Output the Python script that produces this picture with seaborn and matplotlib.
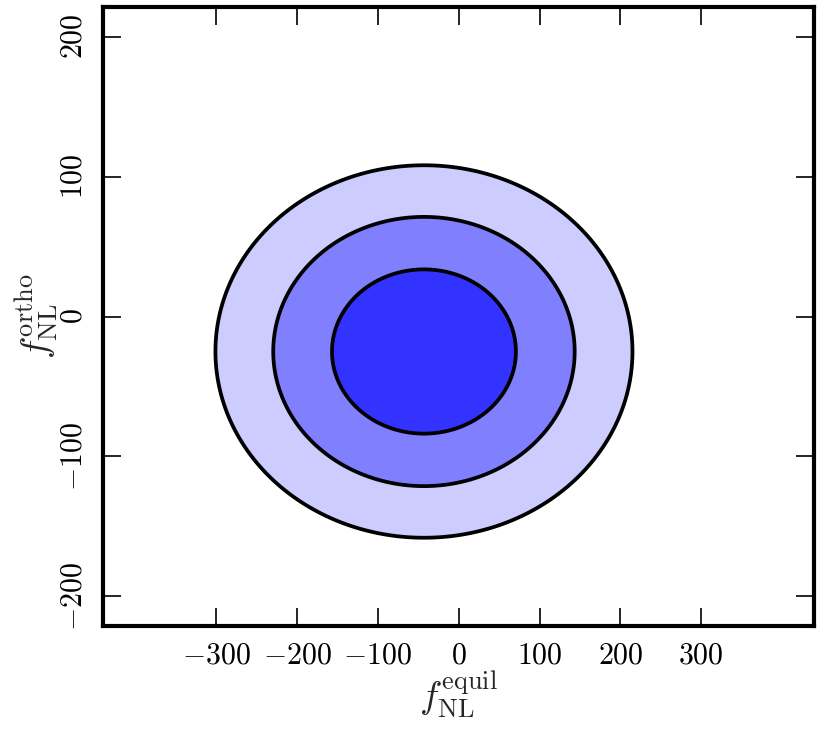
import numpy as np
import matplotlib
matplotlib.use("Agg")
import matplotlib.pyplot as plt
import seaborn as sns

# ── Fisher forecast: centre, 1-sigma widths, confidence levels ─────────────
centre = [-43.0, -25.0]          # (f_NL^equil, f_NL^ortho)
sigma = [75.0, 38.7]             # marginal widths, uncorrelated
delta_chi2 = [2.30, 6.18, 11.83]  # 1, 2, 3 sigma for 2 parameters
fill_colors = ["#3333ff", "#8080ff", "#ccccff"]

x_ticks = [-300, -200, -100, 0, 100, 200, 300]
y_ticks = [-200, -100, 0, 100, 200]
x_lim = (-440, 440)
y_lim = (-221, 221)

sns.set_style("ticks")
plt.rcParams["mathtext.fontset"] = "cm"
plt.rcParams["font.family"] = ["DejaVu Serif"]

xs = np.linspace(x_lim[0], x_lim[1], 900)
ys = np.linspace(y_lim[0], y_lim[1], 900)
X, Y = np.meshgrid(xs, ys)
chi2 = ((X - centre[0]) / sigma[0]) ** 2 + ((Y - centre[1]) / sigma[1]) ** 2

fig = plt.figure(figsize=(8.31, 7.31), dpi=100)
ax = fig.add_axes([0.124, 0.144, 0.856, 0.846])

bounds = [0.0] + delta_chi2
ax.contourf(X, Y, chi2, levels=bounds, colors=fill_colors)
ax.contour(X, Y, chi2, levels=delta_chi2, colors="black", linewidths=2.7)

ax.set_xlim(*x_lim)
ax.set_ylim(*y_lim)
ax.set_xticks(x_ticks)
ax.set_yticks(y_ticks)
fmt = lambda v: rf"${v}$" if v >= 0 else rf"$-{-v}$"
ax.set_xticklabels([fmt(v) for v in x_ticks], fontsize=21.5)
ax.set_yticklabels([fmt(v) for v in y_ticks], fontsize=21.5, rotation=90, va="center")

ax.tick_params(direction="in", length=13, width=1.2, top=True, right=True, pad=11,
               colors="black")
for sp in ax.spines.values():
    sp.set_linewidth(3)
    sp.set_color("black")

ax.set_xlabel(r"$f_{\rm NL}^{\rm equil}$", fontsize=27, labelpad=0)
ax.set_ylabel(r"$f_{\rm NL}^{\rm ortho}$", fontsize=27, labelpad=0)

fig.savefig("out.png", dpi=100)
plt.close(fig)
